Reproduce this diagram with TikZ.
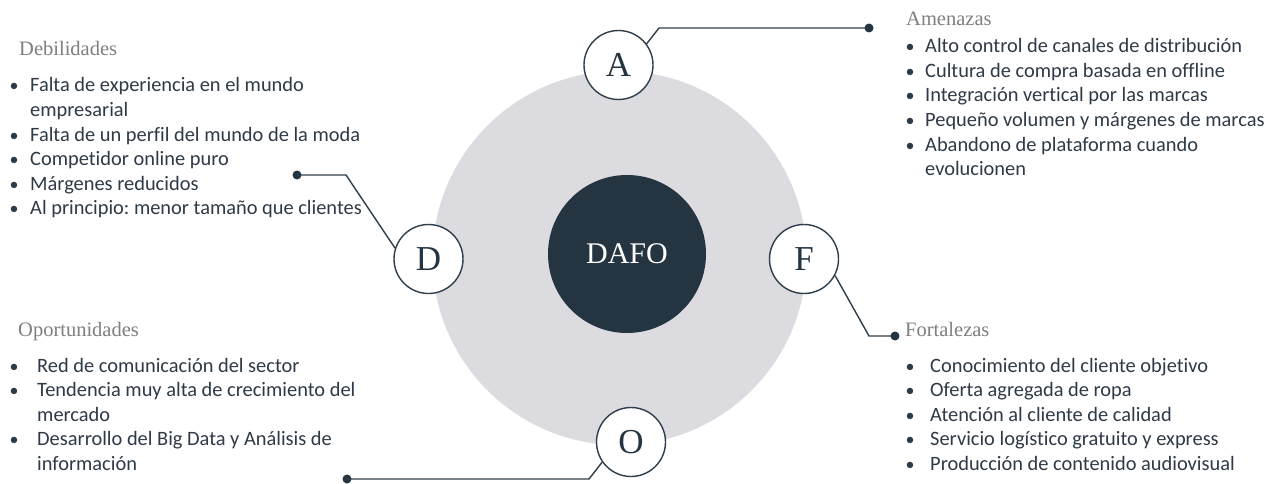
\documentclass[tikz,border=0pt]{standalone}
\usepackage{fontspec}
\setmainfont{Liberation Serif}
\newfontfamily\bodyfont[Ligatures=NoCommon]{Carlito}
\definecolor{navy}{HTML}{243441}
\definecolor{ringgray}{HTML}{DCDBE0}
\definecolor{headgray}{HTML}{7F7F7F}
\definecolor{bodytext}{HTML}{2E3A46}
\definecolor{linecol}{HTML}{2F3E4B}
\frenchspacing
\begin{document}
\begin{tikzpicture}[x=1pt,y=-1pt,
  ring/.style={circle,fill=ringgray,minimum size=374pt,inner sep=0pt},
  core/.style={circle,fill=navy,minimum size=158pt,inner sep=0pt,text=white,font=\fontsize{30}{30}\selectfont},
  letter/.style={circle,draw=linecol,line width=1.4pt,fill=white,minimum size=69pt,inner sep=0pt,text=navy,font=\fontsize{35}{35}\selectfont},
  dotnode/.style={circle,fill=navy,minimum size=9pt,inner sep=0pt},
  conn/.style={draw=linecol,line width=1.4pt},
  heading/.style={anchor=base west,inner sep=0pt,text=headgray,font=\fontsize{20.5}{20.5}\selectfont},
  itm/.style={anchor=base west,inner sep=0pt,text=bodytext,font=\bodyfont\frenchspacing\fontsize{20.4}{24.5}\selectfont},
  bul/.style={anchor=base,inner sep=0pt,text=bodytext,font=\bodyfont\fontsize{18}{24.5}\selectfont}
]
\useasboundingbox (0,0) rectangle (1276,484);
\fill[white] (0,0) rectangle (1276,484);

% central rings
\node[ring] (ringc) at (619.5,258) {};
\node[core] (dafo) at (627,254) {DAFO};

% letters
\node[letter] (A) at (618.5,65) {A};
\node[letter] (D) at (428.5,259) {D};
\node[letter] (F) at (804,259) {F};
\node[letter] (O) at (631,442) {O};

% connectors
\coordinate (bA) at (659,28);
\node[dotnode] (dA) at (869,28) {};
\draw[conn] (A.37) -- (bA) -- (dA.center);

\coordinate (bD) at (346,175);
\node[dotnode] (dD) at (297,175) {};
\draw[conn] (D.162) -- (bD) -- (dD.center);

\coordinate (bF) at (869,336);
\node[dotnode] (dF) at (895,336) {};
\draw[conn] (F.-28) -- (bF) -- (dF.center);

\coordinate (bO) at (589,479);
\node[dotnode] (dO) at (347,479) {};
\draw[conn] (O.215) -- (bO) -- (dO.center);

% headings
\node[heading] (hD) at (19,56) {Debilidades};
\node[heading] (hA) at (906,26) {Amenazas};
\node[heading] (hO) at (18,336) {Oportunidades};
\node[heading] (hF) at (905,336) {Fortalezas};

% Debilidades
\foreach \b/\t [count=\i] in {1/Falta de experiencia en el mundo,0/empresarial,1/Falta de un perfil del mundo de la moda,1/Competidor online puro,1/Márgenes reducidos,1/Al principio: menor tamaño que clientes}{
  \node[itm] (tD\i) at (30,{92+24.5*(\i-1)}) {\t};
  \ifnum\b=1 \node[bul] (uD\i) at (14,{92+24.5*(\i-1)}) {•};\fi
}
% Amenazas
\foreach \b/\t [count=\i] in {1/Alto control de canales de distribución,1/Cultura de compra basada en offline,1/Integración vertical por las marcas,1/Pequeño volumen y márgenes de marcas,1/Abandono de plataforma cuando,0/evolucionen}{
  \node[itm] (tA\i) at (925,{53+24.5*(\i-1)}) {\t};
  \ifnum\b=1 \node[bul] (uA\i) at (910,{53+24.5*(\i-1)}) {•};\fi
}
% Oportunidades
\foreach \b/\t [count=\i] in {1/Red de comunicación del sector,1/Tendencia muy alta de crecimiento del,0/mercado,1/Desarrollo del Big Data y Análisis de,0/información}{
  \node[itm] (tO\i) at (37,{372+24.5*(\i-1)}) {\t};
  \ifnum\b=1 \node[bul] (uO\i) at (14,{372+24.5*(\i-1)}) {•};\fi
}
% Fortalezas
\foreach \b/\t [count=\i] in {1/Conocimiento del cliente objetivo,1/Oferta agregada de ropa,1/Atención al cliente de calidad,1/Servicio logístico gratuito y express,1/Producción de contenido audiovisual}{
  \node[itm] (tF\i) at (930,{372+24.5*(\i-1)}) {\t};
  \ifnum\b=1 \node[bul] (uF\i) at (910,{372+24.5*(\i-1)}) {•};\fi
}
\end{tikzpicture}
\end{document}
